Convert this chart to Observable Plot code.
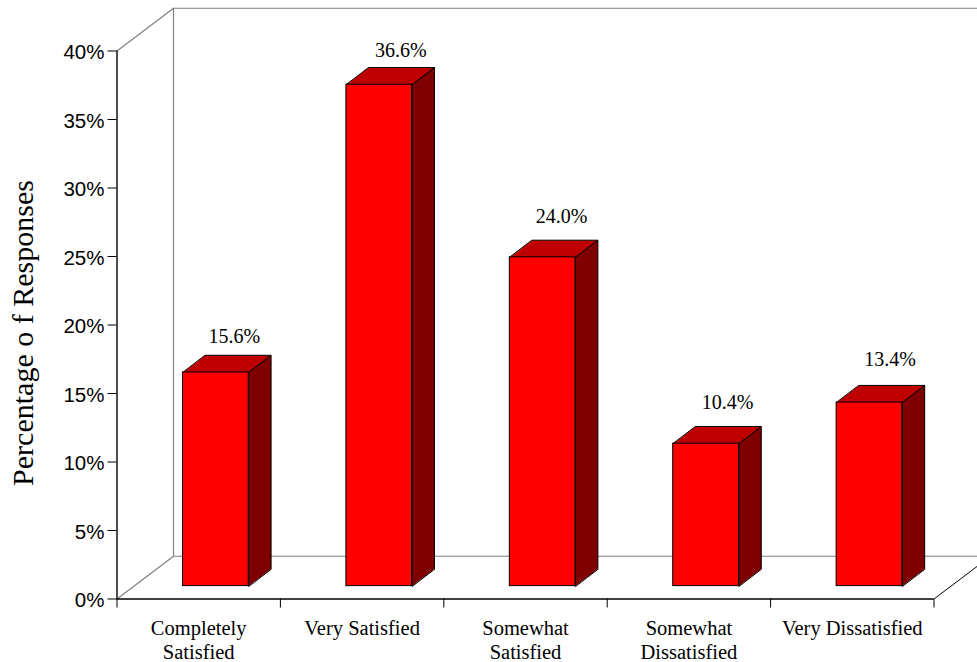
<!DOCTYPE html>
<html>
<head>
<meta charset="utf-8">
<script src="https://cdn.jsdelivr.net/npm/d3@7"></script>
<script src="https://cdn.jsdelivr.net/npm/@observablehq/plot@0.6"></script>
<style>
  html, body { margin: 0; padding: 0; background: #fff; overflow: hidden; }
</style>
</head>
<body>
<div id="chart"></div>
<script>
// Survey responses; each category label is one or two lines
const categories = [
  ["Completely", "Satisfied"],
  ["Very Satisfied"],
  ["Somewhat", "Satisfied"],
  ["Somewhat", "Dissatisfied"],
  ["Very Dissatisfied"]
];
const responsePercent = [15.6, 36.6, 24.0, 10.4, 13.4];
const percentTicks = [0, 5, 10, 15, 20, 25, 30, 35, 40];
const categoryEdges = [0, 1, 2, 3, 4, 5];

// Oblique depth of the chart box, in scale units (categories, percent)
const wallDepth = { x: 0.346, y: 3.12 };
const barDepth = { x: 0.137, y: 1.25 };
const barWidth = 0.402;
const barBase = { x: 0.105, y: 0.94 };

// Pixel nudges for the value labels above each bar
const valueLabelNudge = [
  { dx: 18.5, dy: -29 }, { dx: 21.5, dy: -28 }, { dx: 19, dy: -34 }, { dx: 21.5, dy: -35 }, { dx: 20.5, dy: -37 }
];

const serif = "'Liberation Serif', 'Times New Roman', serif";
const sans = "'Liberation Sans', Arial, sans-serif";

const bars = responsePercent.map((v, i) => {
  const x1 = i + 0.5 + barBase.x - barWidth / 2;
  const x2 = x1 + barWidth;
  const y1 = barBase.y;
  const y2 = barBase.y + v;
  return { i, v, x1, x2, y1, y2 };
});

const labelLines = categories.flatMap((lines, i) =>
  lines.map((text, line) => ({ x: i + 0.5, text, line }))
);

const polygon = (id, pts) => pts.map(([x, y]) => ({ id, x, y }));

const topFaces = bars.flatMap(b => polygon(`top${b.i}`, [
  [b.x1, b.y2], [b.x2, b.y2],
  [b.x2 + barDepth.x, b.y2 + barDepth.y], [b.x1 + barDepth.x, b.y2 + barDepth.y]
]));
const sideFaces = bars.flatMap(b => polygon(`side${b.i}`, [
  [b.x2, b.y1], [b.x2, b.y2],
  [b.x2 + barDepth.x, b.y2 + barDepth.y], [b.x2 + barDepth.x, b.y1 + barDepth.y]
]));

// Back wall, floor edge and the left-hand depth edges
const wallLines = [
  polygon("wall", [[wallDepth.x, wallDepth.y], [wallDepth.x, 40 + wallDepth.y], [5 + wallDepth.x, 40 + wallDepth.y]]),
  polygon("floorBack", [[wallDepth.x, wallDepth.y], [5 + wallDepth.x, wallDepth.y]]),
  polygon("floorLeft", [[0, 0], [wallDepth.x, wallDepth.y]]),
  polygon("topLeft", [[0, 40], [wallDepth.x, 40 + wallDepth.y]])
].flat();
const floorRight = polygon("floorRight", [[5, 0], [5 + wallDepth.x, wallDepth.y]]);

const chart = Plot.plot({
  width: 977,
  height: 662,
  marginLeft: 116.5,
  marginRight: 43.5,
  marginTop: 50.5,
  marginBottom: 63.5,
  style: { background: "#fff", color: "#000" },
  x: { type: "linear", domain: [0, 5], axis: null },
  y: { type: "linear", domain: [0, 40], axis: null },
  marks: [
    Plot.line(wallLines, { x: "x", y: "y", z: "id", stroke: "#808080", strokeWidth: 1.2 }),
    Plot.line(floorRight, { x: "x", y: "y", z: "id", stroke: "#000", strokeWidth: 1 }),
    Plot.line(topFaces, { x: "x", y: "y", z: "id", fill: "#bf0000", stroke: "#000", strokeWidth: 1, curve: "linear-closed" }),
    Plot.line(sideFaces, { x: "x", y: "y", z: "id", fill: "#7f0000", stroke: "#000", strokeWidth: 1, curve: "linear-closed" }),
    Plot.rect(bars, { x1: "x1", x2: "x2", y1: "y1", y2: "y2", fill: "#ff0000", stroke: "#000", strokeWidth: 1 }),
    Plot.ruleX([0], { stroke: "#000", strokeWidth: 1.4 }),
    Plot.ruleY([0], { stroke: "#000", strokeWidth: 1.4 }),
    Plot.axisY({
      anchor: "left", ticks: percentTicks, tickSize: 9, label: null,
      tickFormat: () => "", strokeWidth: 1
    }),
    Plot.text(percentTicks, {
      y: d => d, text: d => `${d}%`, frameAnchor: "left", textAnchor: "end", dx: -12.5, dy: 1.5,
      fontSize: 20.5, fontFamily: sans, fill: "#000"
    }),
    Plot.axisX({
      anchor: "bottom", ticks: categoryEdges, tickSize: 9, label: null,
      tickFormat: () => "", strokeWidth: 1
    }),
    // First and second lines of the category labels
    ...[21.4, 45].map((dy, line) => Plot.text(labelLines.filter(d => d.line === line), {
      x: "x", text: "text", frameAnchor: "bottom", lineAnchor: "top",
      dy, fontSize: 20.5, fontFamily: serif, fill: "#000"
    })),
    ...bars.map((b, i) => Plot.text([b], {
      x: d => (d.x1 + d.x2) / 2, y: "y2", text: d => `${d.v.toFixed(1)}%`,
      lineAnchor: "bottom", dx: valueLabelNudge[i].dx, dy: valueLabelNudge[i].dy,
      fontSize: 20, fontFamily: serif, fill: "#000"
    })),
    Plot.text(["Percentage o f Responses"], {
      text: d => d, frameAnchor: "left", textAnchor: "middle", rotate: -90, dx: -94, dy: 8,
      fontSize: 30, fontFamily: serif, fill: "#000"
    })
  ]
});
document.getElementById("chart").appendChild(chart);
</script>
</body>
</html>
